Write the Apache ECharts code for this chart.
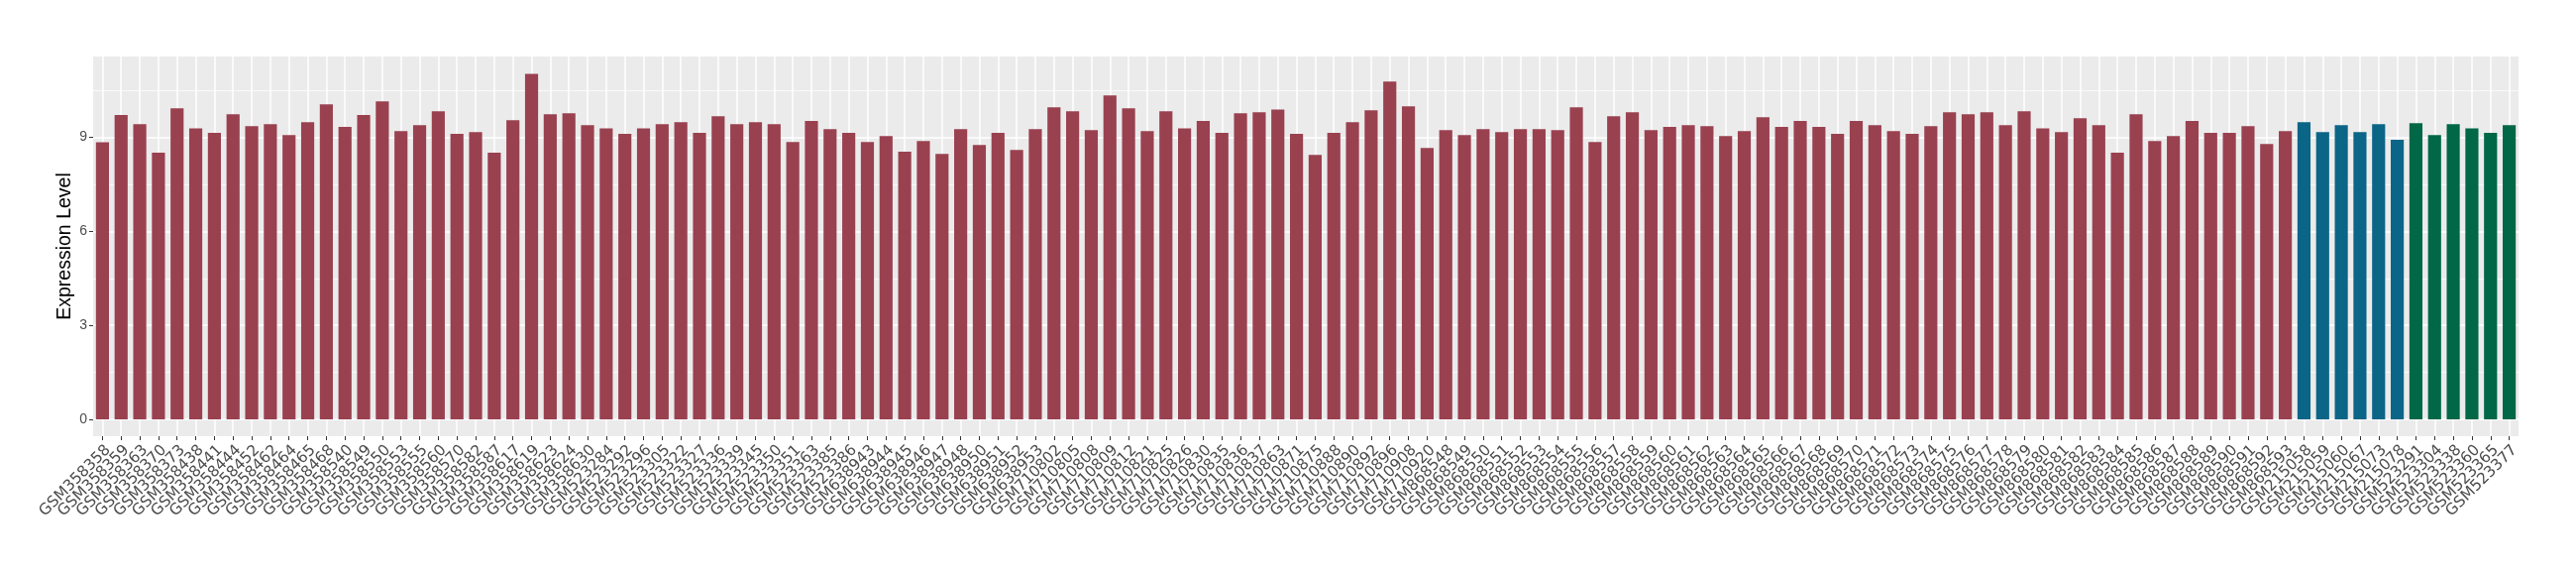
<!DOCTYPE html>
<html>
<head>
<meta charset="utf-8">
<script src="https://cdn.jsdelivr.net/npm/echarts@6/dist/echarts.min.js"></script>
<style>html,body{margin:0;padding:0;background:#fff}#c{width:2600px;height:580px}</style>
</head>
<body>
<div id="c"></div>
<script>
// Group 1 (maroon)
const samplesA = [
  'GSM358358','GSM358359','GSM358363','GSM358370','GSM358373','GSM358438','GSM358441','GSM358444','GSM358452','GSM358462',
  'GSM358464','GSM358465','GSM358468','GSM358540','GSM358549','GSM358550','GSM358553','GSM358555','GSM358560','GSM358570',
  'GSM358582','GSM358587','GSM358617','GSM358619','GSM358623','GSM358624','GSM358630','GSM523284','GSM523292','GSM523296',
  'GSM523305','GSM523322','GSM523327','GSM523336','GSM523339','GSM523345','GSM523350','GSM523351','GSM523363','GSM523385',
  'GSM523386','GSM638943','GSM638944','GSM638945','GSM638946','GSM638947','GSM638948','GSM638950','GSM638951','GSM638952',
  'GSM638953','GSM710802','GSM710805','GSM710808','GSM710809','GSM710812','GSM710821','GSM710825','GSM710826','GSM710830',
  'GSM710835','GSM710836','GSM710837','GSM710863','GSM710871','GSM710875','GSM710888','GSM710890','GSM710892','GSM710896',
  'GSM710908','GSM710920','GSM868548','GSM868549','GSM868550','GSM868551','GSM868552','GSM868553','GSM868554','GSM868555',
  'GSM868556','GSM868557','GSM868558','GSM868559','GSM868560','GSM868561','GSM868562','GSM868563','GSM868564','GSM868565',
  'GSM868566','GSM868567','GSM868568','GSM868569','GSM868570','GSM868571','GSM868572','GSM868573','GSM868574','GSM868575',
  'GSM868576','GSM868577','GSM868578','GSM868579','GSM868580','GSM868581','GSM868582','GSM868583','GSM868584','GSM868585',
  'GSM868586','GSM868587','GSM868588','GSM868589','GSM868590','GSM868591','GSM868592','GSM868593'
];
const valuesA = [
  8.84, 9.71, 9.42, 8.51, 9.93, 9.29, 9.14, 9.74, 9.36, 9.42,
  9.07, 9.48, 10.05, 9.33, 9.71, 10.15, 9.20, 9.39, 9.83, 9.11,
  9.17, 8.51, 9.55, 11.03, 9.74, 9.77, 9.39, 9.29, 9.11, 9.29,
  9.42, 9.48, 9.14, 9.67, 9.42, 9.48, 9.42, 8.85, 9.52, 9.26,
  9.14, 8.85, 9.04, 8.54, 8.88, 8.47, 9.26, 8.76, 9.14, 8.60,
  9.26, 9.96, 9.83, 9.23, 10.34, 9.93, 9.20, 9.83, 9.29, 9.52,
  9.14, 9.77, 9.80, 9.89, 9.11, 8.44, 9.14, 9.48, 9.86, 10.78,
  9.99, 8.66, 9.23, 9.07, 9.26, 9.17, 9.26, 9.26, 9.23, 9.96,
  8.85, 9.67, 9.80, 9.23, 9.33, 9.39, 9.36, 9.04, 9.20, 9.64,
  9.33, 9.52, 9.33, 9.11, 9.52, 9.39, 9.20, 9.11, 9.36, 9.80,
  9.74, 9.80, 9.39, 9.83, 9.29, 9.17, 9.61, 9.39, 8.51, 9.74,
  8.88, 9.04, 9.52, 9.14, 9.14, 9.36, 8.79, 9.20
];
// Group 2 (blue)
const samplesB = ['GSM215058','GSM215059','GSM215060','GSM215067','GSM215073','GSM215078'];
const valuesB = [9.48, 9.17, 9.39, 9.17, 9.42, 8.92];
// Group 3 (green)
const samplesC = ['GSM523291','GSM523304','GSM523338','GSM523360','GSM523365','GSM523377'];
const valuesC = [9.45, 9.07, 9.42, 9.29, 9.14, 9.39];

const yTicks = [0, 3, 6, 9];
const yMax = 11.58;
const colorA = '#9A4150', colorB = '#0B6587', colorC = '#006747';

const categories = samplesA.concat(samplesB, samplesC);
const barData = [].concat(
  valuesA.map(v => ({ value: v, itemStyle: { color: colorA } })),
  valuesB.map(v => ({ value: v, itemStyle: { color: colorB } })),
  valuesC.map(v => ({ value: v, itemStyle: { color: colorC } }))
);

const chart = echarts.init(document.getElementById('c'), null, { renderer: 'canvas' });
chart.setOption({
  animation: false,
  backgroundColor: '#ffffff',
  grid: [
    { left: 94, right: 58, top: 57, bottom: 157, show: false, outerBoundsMode: 'none' },
    { left: 94, right: 58, top: 57, bottom: 140, show: true, backgroundColor: '#EBEBEB', borderWidth: 0, outerBoundsMode: 'none' }
  ],
  xAxis: [
    { type: 'category', gridIndex: 0, data: categories, show: false },
    {
      type: 'category', gridIndex: 1, data: categories,
      axisLine: { show: false },
      axisTick: { show: true, alignWithLabel: true, length: 4, lineStyle: { color: '#333333', width: 1 } },
      axisLabel: {
        rotate: 45, interval: 0, fontSize: 15.5, fontFamily: 'DejaVu Sans', color: '#4D4D4D',
        margin: 6, align: 'right', verticalAlign: 'top'
      },
      splitLine: { show: true, alignWithLabel: true, interval: 0, lineStyle: { color: '#FFFFFF', width: 1.5 } }
    }
  ],
  yAxis: [
    {
      type: 'value', gridIndex: 0, min: 0, max: yMax, interval: 3,
      axisLine: { show: false },
      axisTick: { show: true, length: 4, customValues: yTicks, lineStyle: { color: '#333333', width: 1 } },
      axisLabel: {
        fontSize: 14, fontFamily: 'Liberation Sans', color: '#4D4D4D', margin: 6, customValues: yTicks,
        formatter: v => (yTicks.indexOf(v) >= 0 ? String(v) : '')
      },
      splitLine: { show: true, lineStyle: { color: '#FFFFFF', width: 1.5 } },
      minorTick: { show: false, splitNumber: 2 },
      minorSplitLine: { show: true, lineStyle: { color: '#FFFFFF', width: 0.75 } }
    },
    {
      type: 'value', gridIndex: 1, min: 0, max: 1,
      name: 'Expression Level', nameLocation: 'middle', nameGap: 18,
      nameTextStyle: { fontSize: 19.5, fontFamily: 'Liberation Sans', color: '#000000' },
      axisLine: { show: false }, axisTick: { show: false }, axisLabel: { show: false }, splitLine: { show: false }
    }
  ],
  series: [{
    type: 'bar', xAxisIndex: 0, yAxisIndex: 0, data: barData, barWidth: '70%'
  }]
});
</script>
</body>
</html>
